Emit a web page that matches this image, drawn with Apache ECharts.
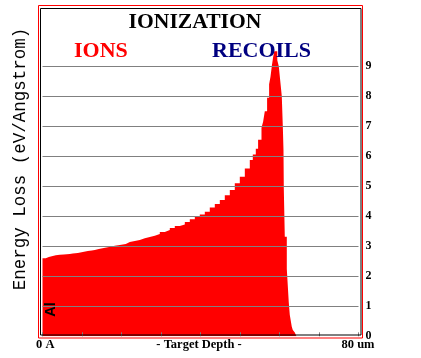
<!DOCTYPE html>
<html>
<head>
<meta charset="utf-8">
<script src="https://cdn.jsdelivr.net/npm/echarts@6/dist/echarts.min.js"></script>
<style>html,body{margin:0;padding:0;background:#fff}#c{width:421px;height:358px}</style>
</head>
<body>
<div id="c"></div>
<script>
// Target depth (um) where each step of the histogram begins
const depth = [0, 0.84, 1.59, 2.35, 3.37, 4.38, 5.39, 6.91, 7.67, 8.94, 10.20, 11.47, 12.48, 13.24, 14.25,
  15.52, 16.53, 17.54, 18.30, 19.57, 21.09, 22.10, 23.37, 24.63, 25.90, 27.16, 28.43, 29.70, 30.96, 32.23,
  33.49, 34.76, 36.03, 37.29, 38.56, 39.82, 41.09, 42.35, 43.62, 44.89, 46.15, 47.42, 48.68, 49.95, 51.22,
  52.48, 53.24, 54.00, 54.58, 55.44, 55.85, 56.28, 56.86, 57.37, 57.72, 58.05, 58.38, 58.68, 59.06, 59.44,
  59.82, 60.20, 60.58, 60.84, 61.01, 61.09, 61.34, 61.85, 62.35, 62.61, 63.11, 63.37, 63.87, 64.30];
// Ionization energy loss by ions (eV/Angstrom)
const ions = [2.60, 2.64, 2.67, 2.70, 2.72, 2.73, 2.74, 2.76, 2.78, 2.81, 2.84, 2.86, 2.88, 2.91, 2.94,
  2.97, 2.99, 3.02, 3.04, 3.08, 3.14, 3.18, 3.21, 3.27, 3.31, 3.35, 3.41, 3.48, 3.54, 3.61,
  3.68, 3.73, 3.81, 3.90, 3.98, 4.06, 4.15, 4.29, 4.41, 4.54, 4.70, 4.88, 5.10, 5.32, 5.59,
  5.88, 6.06, 6.25, 6.55, 6.95, 7.15, 7.50, 7.95, 8.40, 8.65, 9.00, 9.30, 9.50, 9.50, 9.20,
  9.00, 8.50, 8.00, 7.00, 6.20, 4.93, 3.32, 2.24, 1.13, 0.71, 0.32, 0.21, 0.13, 0];
const yTicks = [0, 1, 2, 3, 4, 5, 6, 7, 8, 9];

const chart = echarts.init(document.getElementById('c'), null, {renderer: 'canvas'});
const serif = '"Liberation Serif", "Times New Roman", serif';
chart.setOption({
  backgroundColor: '#ffffff',
  animation: false,
  grid: {left: 42.5, right: 62.5, top: 36.3, bottom: 21.7, containLabel: false},
  xAxis: {
    type: 'value', min: 0, max: 80, interval: 10, z: 5,
    axisLine: {show: false},
    axisTick: {show: true, inside: true, length: 4, lineStyle: {color: '#808080', width: 1}},
    axisLabel: {show: false},
    splitLine: {show: false}
  },
  yAxis: {
    type: 'value', position: 'right', min: 0, max: 10, interval: 1, z: 5,
    axisLine: {show: false},
    axisTick: {show: false},
    splitLine: {show: true, showMinLine: false, showMaxLine: false, lineStyle: {color: '#808080', width: 1}},
    axisLabel: {
      show: true, margin: 7, color: '#000', fontFamily: serif, fontWeight: 'bold', fontSize: 12,
      padding: [0, 0, 5, 0],
      formatter: v => yTicks.includes(v) ? String(v) : ''
    }
  },
  series: [{
    type: 'line', step: 'end', symbol: 'none', z: 2,
    lineStyle: {width: 0, color: '#ff0000'},
    areaStyle: {color: '#ff0000', opacity: 1},
    data: depth.map((d, i) => [d, ions[i]])
  }],
  graphic: [
    {type: 'rect', z: 10, silent: true, shape: {x: 38.5, y: 5.5, width: 324, height: 332.5}, style: {fill: 'none', stroke: '#ff0000', lineWidth: 1}},
    {type: 'rect', z: 10, silent: true, shape: {x: 40.5, y: 8.5, width: 320.5, height: 326.5}, style: {fill: 'none', stroke: '#000000', lineWidth: 1}},
    {type: 'text', z: 11, x: 195, y: 22.5, style: {text: 'IONIZATION', fill: '#000', font: 'bold 21.6px ' + serif, textAlign: 'center', textVerticalAlign: 'middle'}},
    {type: 'text', z: 11, x: 74, y: 51, style: {text: 'IONS', fill: '#ff0000', font: 'bold 22px ' + serif, textAlign: 'left', textVerticalAlign: 'middle'}},
    {type: 'text', z: 11, x: 212, y: 51, style: {text: 'RECOILS', fill: '#000080', font: 'bold 22px ' + serif, textAlign: 'left', textVerticalAlign: 'middle'}},
    {type: 'text', z: 11, x: 20.5, y: 159, rotation: Math.PI / 2, style: {text: 'Energy Loss (eV/Angstrom)', fill: '#000', font: '17.5px "Liberation Mono", monospace', textAlign: 'center', textVerticalAlign: 'middle'}},
    {type: 'text', z: 11, x: 50.5, y: 309.5, rotation: Math.PI / 2, style: {text: 'Al', fill: '#000', font: 'bold 14.5px "Liberation Sans", Arial, sans-serif', textAlign: 'center', textVerticalAlign: 'middle'}},
    {type: 'text', z: 11, x: 36, y: 344.5, style: {text: '0 A', fill: '#000', font: 'bold 12.5px ' + serif, textAlign: 'left', textVerticalAlign: 'middle'}},
    {type: 'text', z: 11, x: 199, y: 344.5, style: {text: '- Target Depth -', fill: '#000', font: 'bold 12.5px ' + serif, textAlign: 'center', textVerticalAlign: 'middle'}},
    {type: 'text', z: 11, x: 358, y: 344.5, style: {text: '80 um', fill: '#000', font: 'bold 12.5px ' + serif, textAlign: 'center', textVerticalAlign: 'middle'}}
  ]
});
</script>
</body>
</html>
